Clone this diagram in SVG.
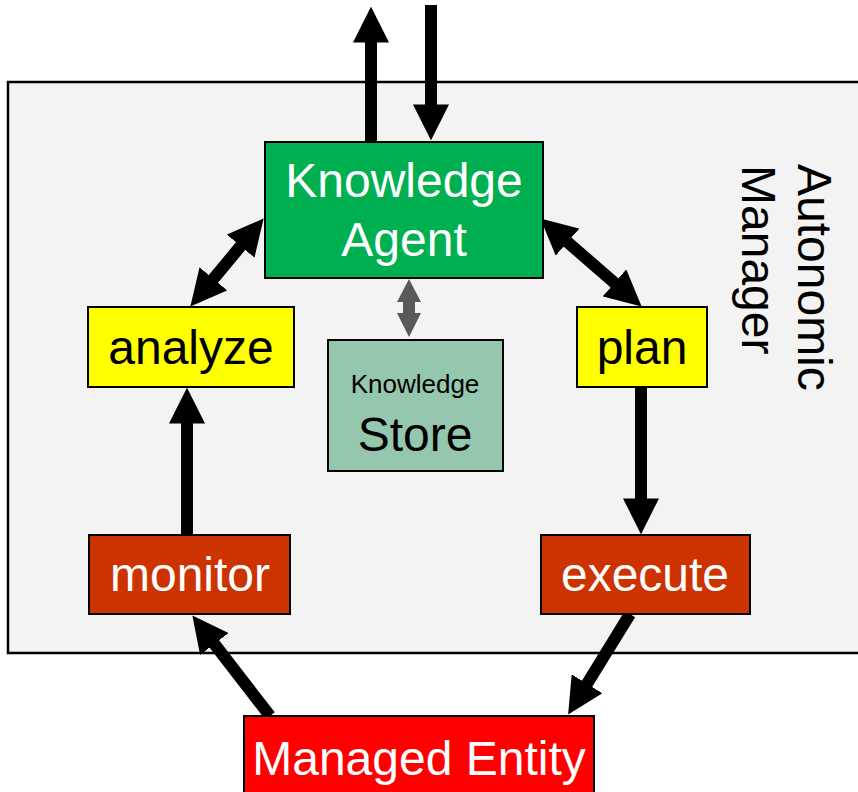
<svg xmlns="http://www.w3.org/2000/svg" width="858" height="792" viewBox="0 0 858 792">
<defs>
<style>
.box{stroke:#000;stroke-width:2}
.t{font-family:"Liberation Sans",Arial,sans-serif;font-size:48px;text-anchor:middle}
.w{fill:#fff}
.k{fill:#000}
.con{stroke:#000;stroke-width:12;fill:none}
</style>
<marker id="ah" viewBox="0 0 3 3" refX="0.05" refY="1.5" markerWidth="3" markerHeight="3" orient="auto-start-reverse" markerUnits="strokeWidth">
<path d="M0,0 L3,1.5 L0,3z" fill="#000"/>
</marker>
</defs>
<rect width="858" height="792" fill="#fff"/>
<g id="autonomic-manager">
<rect x="8" y="82" width="860" height="571" fill="#f3f3f3" stroke="#000" stroke-width="2.5"/>
<text class="t k" style="text-anchor:start" transform="translate(798,164) rotate(90)">Autonomic</text>
<text class="t k" style="text-anchor:start" transform="translate(742,165) rotate(90)">Manager</text>
</g>
<g id="connectors">
<line class="con" x1="371" y1="142" x2="371" y2="42" marker-end="url(#ah)"/>
<line class="con" x1="431" y1="5" x2="431" y2="105" marker-end="url(#ah)"/>
<line class="con" x1="241" y1="245.7" x2="213" y2="279.3" marker-start="url(#ah)" marker-end="url(#ah)"/>
<line class="con" x1="567.1" y1="241.7" x2="614.9" y2="283.3" marker-start="url(#ah)" marker-end="url(#ah)"/>
<line class="con" x1="641" y1="388" x2="641" y2="499" marker-end="url(#ah)"/>
<line class="con" x1="187" y1="535" x2="187" y2="423" marker-end="url(#ah)"/>
<line class="con" x1="630" y1="614" x2="586.7" y2="684.3" marker-end="url(#ah)"/>
<line class="con" x1="270" y1="716" x2="214" y2="643.5" marker-end="url(#ah)"/>
<polygon points="409,279 421,302 415,302 415,313 421,313 409,337 397,313 403,313 403,302 397,302" fill="#595959"/>
</g>
<g id="knowledge-agent">
<rect class="box" x="265" y="142" width="278" height="136" fill="#00b050"/>
<text class="t w" x="404" y="197">Knowledge</text>
<text class="t w" x="404" y="256">Agent</text>
</g>
<g id="analyze">
<rect class="box" x="88" y="307" width="206" height="80" fill="#ffff00"/>
<text class="t k" x="191" y="364">analyze</text>
</g>
<g id="plan">
<rect class="box" x="577" y="307" width="130" height="80" fill="#ffff00"/>
<text class="t k" x="642" y="364">plan</text>
</g>
<g id="knowledge-store">
<rect class="box" x="328" y="340" width="175" height="131" fill="#95c6ae"/>
<text class="t k" x="415" y="393" style="font-size:26px">Knowledge</text>
<text class="t k" x="415" y="451">Store</text>
</g>
<g id="monitor">
<rect class="box" x="89" y="535" width="201" height="79" fill="#cc3300"/>
<text class="t w" x="190" y="591">monitor</text>
</g>
<g id="execute">
<rect class="box" x="541" y="535" width="209" height="79" fill="#cc3300"/>
<text class="t w" x="645" y="591">execute</text>
</g>
<g id="managed-entity">
<rect class="box" x="244" y="716" width="350" height="90" fill="#ff0000"/>
<text class="t w" x="419" y="775">Managed Entity</text>
</g>
</svg>
